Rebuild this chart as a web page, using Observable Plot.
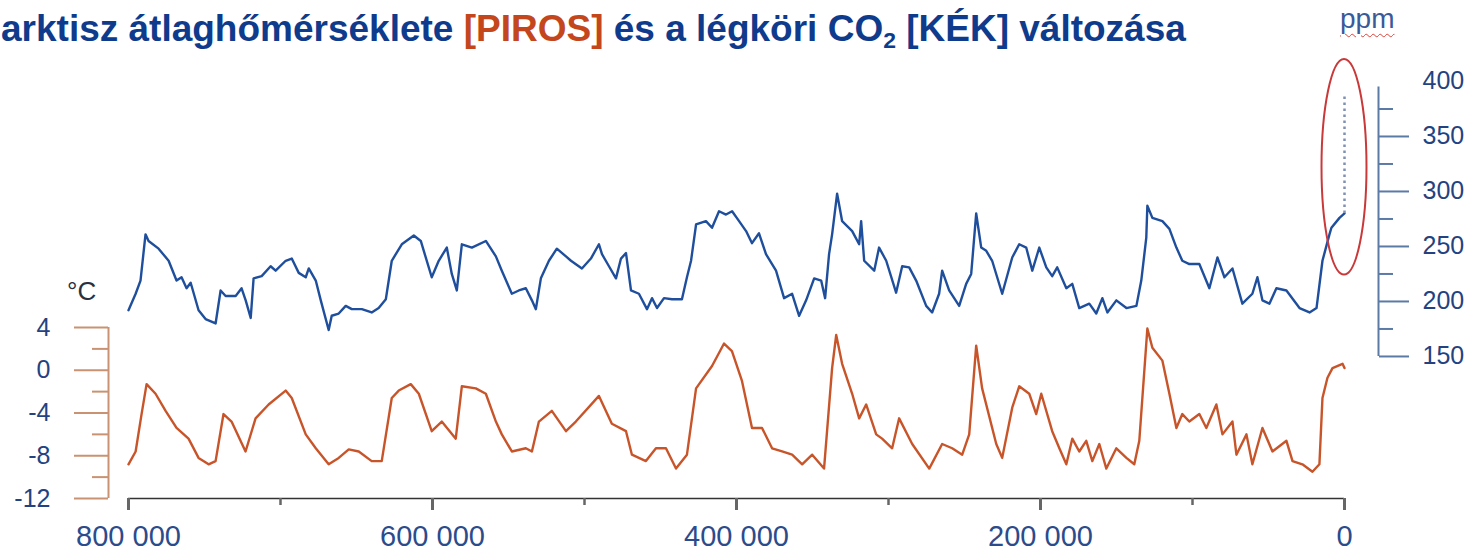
<!DOCTYPE html>
<html>
<head>
<meta charset="utf-8">
<script src="https://cdn.jsdelivr.net/npm/d3@7"></script>
<script src="https://cdn.jsdelivr.net/npm/@observablehq/plot@0.6"></script>
<style>
  body { margin: 0; background: #fff; }
  #wrap { position: relative; width: 1481px; height: 556px; overflow: hidden; font-family: "Liberation Sans", Arial, Helvetica, sans-serif; }
  #chart { position: absolute; left: 0; top: 0; }
  .lbl { position: absolute; white-space: nowrap; }
  #title { left: 1px; top: 11px; font-size: 37px; line-height: 36px; font-weight: bold; color: #0f3b8c; }
  #title .red { color: #c4461c; }
  #title .sub { font-size: 0.62em; position: relative; top: 0.3em; }
  #ppm { left: 1340px; top: 5px; font-size: 28px; line-height: 28px; color: #3a5a9a;
         text-decoration: underline wavy #d9443a; text-decoration-thickness: 1px; text-underline-offset: 5px; }
  #degc { left: 67px; top: 278px; font-size: 26px; line-height: 26px; color: #2b2f3f; }
</style>
</head>
<body>
<div id="wrap">
  <div id="chart"></div>
  <div id="title" class="lbl">arktisz átlaghőmérséklete <span class="red">[PIROS]</span> és a légköri CO<span class="sub">2</span> [KÉK] változása</div>
  <div id="ppm" class="lbl">ppm</div>
  <div id="degc" class="lbl">°C</div>
</div>
<script>
// ---- Data (ages in thousands of years before present) ----
const co2Age = [800.0,795.3,792.1,788.8,786.8,780.2,773.6,768.4,765.1,761.8,759.1,753.9,749.3,742.7,739.4,736.1,729.5,725.6,722.9,719.6,717.7,712.4,706.5,703.2,696.6,692.6,688.0,683.4,681.4,676.8,673.5,668.3,666.3,661.7,657.1,653.1,646.5,640.0,635.4,630.7,626.8,620.2,612.3,607.7,600.5,595.9,590.6,587.3,584.0,580.7,574.1,564.9,558.3,554.4,547.8,543.2,538.6,534.6,532.0,528.7,523.4,518.2,512.2,508.9,501.7,495.8,490.5,488.5,483.9,479.3,476.0,472.7,469.4,464.2,458.9,455.6,452.3,447.7,442.4,435.9,432.6,429.9,426.6,420.1,416.1,411.5,406.9,402.9,398.3,393.7,389.8,385.2,380.6,374.0,368.7,363.4,358.8,354.2,348.9,344.3,341.7,339.1,337.1,333.8,330.5,323.9,319.3,318.0,316.0,309.4,306.2,301.5,295.0,291.0,286.4,281.8,275.2,271.3,266.7,264.7,260.1,253.5,248.9,245.6,242.3,239.0,235.7,231.8,225.2,218.6,214.0,209.4,205.4,200.8,196.2,192.3,189.0,183.0,179.1,174.5,167.9,163.3,159.3,156.0,150.1,143.5,136.9,133.7,130.4,129.7,126.4,119.8,115.2,110.6,106.7,102.1,95.5,88.9,83.6,79.0,73.7,67.2,60.6,57.3,54.0,49.4,44.8,38.2,29.6,23.0,18.4,14.5,9.9,8.6,3.3,0];
const co2Ppm = [192,207,219,261,255,248,237,219,222,212,217,192,184,180,210,205,205,212,201,185,221,223,232,228,237,239,226,222,230,219,201,174,187,189,196,193,193,190,194,202,237,252,260,255,222,237,249,225,210,252,249,255,241,228,207,210,212,201,193,221,237,248,241,237,230,239,252,243,232,221,239,244,210,207,193,203,194,203,202,202,222,237,270,273,267,282,279,282,273,264,253,262,243,228,203,207,187,201,221,219,203,243,261,298,273,264,252,273,237,228,249,237,208,232,231,219,196,190,207,228,210,196,216,225,280,249,246,237,207,240,252,249,228,249,231,223,231,212,216,194,198,189,203,190,201,194,196,219,258,287,276,273,266,249,237,234,234,212,240,222,230,198,207,222,201,198,212,210,194,190,194,237,261,267,276,280];

const tempAge = [800.0,795.3,791.4,788.1,782.2,775.6,768.4,760.5,753.9,747.3,742.7,737.5,732.2,723.0,716.4,707.8,696.6,692.6,683.4,676.8,668.3,661.7,655.1,648.5,640.0,633.4,626.8,622.2,614.3,609.0,600.5,593.9,584.7,580.7,571.5,564.9,558.3,554.4,547.8,538.6,534.6,530.0,521.5,512.2,505.7,490.5,482.0,472.7,468.8,459.6,453.0,446.4,439.8,432.6,426.6,416.1,408.2,403.0,396.4,389.8,383.2,376.6,370.0,363.4,356.8,350.2,342.4,337.1,334.4,330.5,323.9,319.3,314.7,308.1,304.2,297.6,293.0,284.4,273.2,264.7,258.1,251.5,246.9,242.3,238.4,229.1,225.2,218.6,214.0,207.4,202.8,199.5,192.3,187.6,183.0,179.1,174.5,169.9,165.9,161.3,156.7,150.1,143.5,138.3,135.0,129.7,126.4,119.8,115.2,110.6,106.7,102.1,95.5,90.9,84.3,80.3,73.7,71.1,64.5,60.6,54.0,47.4,38.2,34.2,27.7,21.1,16.5,14.5,11.2,7.9,1.3,0];
const tempC = [-8.8,-7.6,-4.1,-1.3,-2.2,-3.8,-5.4,-6.4,-8.2,-8.8,-8.5,-4.1,-4.8,-7.6,-4.5,-3.2,-1.9,-2.6,-6.0,-7.3,-8.8,-8.2,-7.4,-7.6,-8.5,-8.5,-2.6,-1.9,-1.3,-2.2,-5.7,-4.8,-6.4,-1.5,-1.7,-2.2,-4.8,-6.0,-7.6,-7.3,-7.6,-4.8,-3.8,-5.7,-4.8,-2.4,-5.0,-5.7,-7.9,-8.5,-7.3,-7.3,-9.2,-7.9,-1.7,0.4,2.5,1.8,-1.0,-5.4,-5.4,-7.3,-7.6,-7.9,-8.8,-7.9,-9.2,0.2,3.3,0.6,-2.2,-4.5,-3.2,-6.0,-6.4,-7.3,-4.5,-6.9,-9.2,-6.9,-7.3,-7.9,-6.0,2.3,-1.7,-6.9,-8.2,-3.5,-1.5,-2.2,-4.1,-2.2,-5.7,-7.3,-8.8,-6.4,-7.6,-6.6,-8.5,-6.9,-9.2,-7.3,-8.2,-8.8,-6.6,3.9,2.1,0.9,-2.2,-5.4,-4.1,-4.8,-4.1,-5.4,-3.2,-6.0,-4.8,-7.9,-6.0,-8.8,-5.4,-7.6,-6.6,-8.5,-8.8,-9.5,-8.8,-2.6,-0.7,0.2,0.6,0.2];

// modern CO2 rise (dotted), ppm
const recentCo2 = [280, 388];

// tick values
const xMajorTicks = [800000, 600000, 400000, 200000, 0];
const xMinorTicks = [700000, 500000, 300000, 100000];
const tempMajorTicks = [4, 0, -4, -8, -12];
const tempMinorTicks = [2, -2, -6, -10];
const ppmLabels = [400, 350, 300, 250, 200, 150];
const ppmMajorTicks = [350, 300, 250, 200, 150];
const ppmMinorTicks = [375, 325, 275, 225, 175];
const ppmAxisTop = 395;

// annotation ellipse (center age, center ppm, half width in years, half height in ppm)
const ellipse = {age: 0, ppm: 322, halfAge: 14800, halfPpm: 98};

// ---- Build tables ----
const co2Data = co2Age.map((a, i) => ({age: a * 1000, ppm: co2Ppm[i]}));
const tempData = tempAge.map((a, i) => ({age: a * 1000, temp: tempC[i]}));

// dual axis alignment: ppm -> temperature-axis units
const co2ToT = d3.scaleLinear().domain([150, 400]).range([1.29, 27.02]);

const BLUE = "#1f4f9c";
const RED = "#c8552a";
const BROWN = "#c99272";
const SLATE = "#5b7aa6";
const NAVY = "#24427f";
const fmtX = d => d3.format(",")(d).replace(/,/g, " ");

const chart = Plot.plot({
  width: 1481,
  height: 556,
  marginLeft: 128,
  marginRight: 137,
  marginTop: 60,
  marginBottom: 58,
  style: {fontFamily: "'Liberation Sans', Arial, Helvetica, sans-serif", background: "transparent", overflow: "visible"},
  x: {domain: [800000, 0], axis: null, label: null},
  y: {domain: [-12, 4], range: [498, 327], axis: null, label: null},
  marks: [
    // left (temperature) axis
    Plot.ruleX([800000], {y1: -12, y2: 4, dx: -20, stroke: BROWN, strokeWidth: 2}),
    Plot.axisY(tempMajorTicks, {anchor: "left", dx: -20, tickSize: 34, tickPadding: 24, stroke: BROWN, strokeWidth: 2,
      fill: NAVY, fontSize: 25, tickFormat: d => String(d), label: null}),
    Plot.axisY(tempMinorTicks, {anchor: "left", dx: -20, tickSize: 16, stroke: BROWN, strokeWidth: 2,
      fill: "none", tickFormat: () => "", label: null}),
    // right (CO2) axis
    Plot.ruleX([0], {y1: co2ToT(150), y2: co2ToT(ppmAxisTop), dx: 34, stroke: SLATE, strokeWidth: 2}),
    Plot.axisY(ppmMajorTicks.map(co2ToT), {anchor: "right", dx: 34, tickSize: 30, stroke: SLATE, strokeWidth: 2,
      fill: "none", tickFormat: () => "", label: null}),
    Plot.axisY(ppmMinorTicks.map(co2ToT), {anchor: "right", dx: 34, tickSize: 14, stroke: SLATE, strokeWidth: 2,
      fill: "none", tickFormat: () => "", label: null}),
    Plot.axisY(ppmLabels.map(co2ToT), {anchor: "right", dx: 34, tickSize: 30, tickPadding: 14, stroke: "none",
      fill: NAVY, fontSize: 25, tickFormat: d => String(Math.round(co2ToT.invert(d))), label: null}),
    // x axis
    Plot.ruleY([-12], {x1: 800000, x2: 0, stroke: "#333", strokeWidth: 1.5}),
    Plot.axisX(xMajorTicks, {anchor: "bottom", tickSize: 12, tickPadding: 15, stroke: "#666", strokeWidth: 3,
      fill: "#2b4b8c", fontSize: 29, tickFormat: fmtX, label: null}),
    Plot.axisX(xMinorTicks, {anchor: "bottom", tickSize: 7, stroke: "#666", strokeWidth: 2.5,
      fill: "none", tickFormat: () => "", label: null}),
    // series
    Plot.line(tempData, {x: "age", y: "temp", stroke: RED, strokeWidth: 2.4, strokeLinejoin: "round"}),
    Plot.line(co2Data, {x: "age", y: d => co2ToT(d.ppm), stroke: BLUE, strokeWidth: 2.4, strokeLinejoin: "round"}),
    // modern rise, dotted
    Plot.ruleX([0], {y1: co2ToT(recentCo2[0]), y2: co2ToT(recentCo2[1]), stroke: "#7f90b4", strokeWidth: 2.5,
      strokeDasharray: "2.5,3.5"}),
    // red ellipse annotation
    (index, scales) => {
      const cx = scales.x(ellipse.age);
      const cy = scales.y(co2ToT(ellipse.ppm));
      const rx = Math.abs(scales.x(ellipse.age + ellipse.halfAge) - cx);
      const ry = Math.abs(scales.y(co2ToT(ellipse.ppm + ellipse.halfPpm)) - cy);
      const g = d3.create("svg:g");
      g.append("ellipse").attr("cx", cx).attr("cy", cy).attr("rx", rx).attr("ry", ry)
        .attr("fill", "none").attr("stroke", "#c9393a").attr("stroke-width", 2);
      return g.node();
    }
  ]
});
document.getElementById("chart").appendChild(chart);
</script>
</body>
</html>
